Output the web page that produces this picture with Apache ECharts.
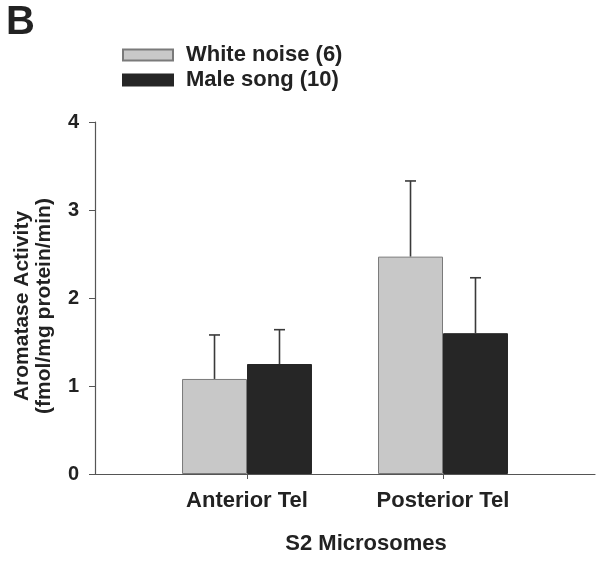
<!DOCTYPE html>
<html>
<head>
<meta charset="utf-8">
<script src="https://cdn.jsdelivr.net/npm/echarts@6/dist/echarts.min.js"></script>
<style>
html,body{margin:0;padding:0;background:#fff;}
#chart{width:601px;height:561px;}
</style>
</head>
<body>
<div id="chart"></div>
<script>
const categories = ['Anterior Tel', 'Posterior Tel'];
const seriesNames = ['White noise (6)', 'Male song (10)'];
const whiteNoise = [1.08, 2.47];
const whiteNoiseErr = [0.50, 0.86];
const maleSong = [1.25, 1.60];
const maleSongErr = [0.39, 0.63];
const yTicks = [0, 1, 2, 3, 4];

const FONT = '"Liberation Sans", Arial, sans-serif';
const AXIS_COLOR = '#555555';
const TEXT_COLOR = '#222222';
const BAR_CATEGORY_GAP = 0.337;

const chart = echarts.init(document.getElementById('chart'), null, {renderer: 'canvas'});

function errRender(offsetSign, means, errs) {
  return function (params, api) {
    const i = api.value(0);
    const band = api.size([1, 0])[0];
    const barW = band * (1 - BAR_CATEGORY_GAP) / 2;
    const base = api.coord([i, means[i]]);
    const top = api.coord([i, means[i] + errs[i]]);
    const x = base[0] + offsetSign * barW / 2;
    const cap = 5.5;
    const style = {stroke: '#3a3a3a', lineWidth: 1.6};
    return {
      type: 'group',
      children: [
        {type: 'line', shape: {x1: x, y1: base[1], x2: x, y2: top[1]}, style: style},
        {type: 'line', shape: {x1: x - cap, y1: top[1], x2: x + cap, y2: top[1]}, style: style}
      ]
    };
  };
}

const option = {
  animation: false,
  backgroundColor: '#ffffff',
  textStyle: {fontFamily: FONT},
  title: {
    text: 'B', left: 6, top: 3, padding: 0,
    textStyle: {fontFamily: FONT, fontWeight: 'bold', fontSize: 40, color: TEXT_COLOR}
  },
  legend: {
    orient: 'vertical', left: 122, top: 44, padding: 0,
    itemWidth: 50, itemHeight: 11, itemGap: 3,
    icon: 'rect',
    data: seriesNames,
    textStyle: {fontFamily: FONT, fontWeight: 'bold', fontSize: 22, color: TEXT_COLOR, padding: [0, 0, 0, 8]}
  },
  grid: [
    {left: 95, right: 6, top: 122, bottom: 87},
    {left: 149, width: 392, top: 122, bottom: 87}
  ],
  xAxis: [
    {
      gridIndex: 0, type: 'value', min: 0, max: 1,
      axisLine: {show: true, lineStyle: {color: AXIS_COLOR, width: 1.2}},
      axisTick: {show: false}, axisLabel: {show: false}, splitLine: {show: false}
    },
    {
      gridIndex: 1, type: 'category', data: categories,
      axisLine: {show: false},
      axisTick: {show: true, alignWithLabel: true, length: 5, lineStyle: {color: AXIS_COLOR}},
      axisLabel: {margin: 16, fontFamily: FONT, fontWeight: 'bold', fontSize: 22, color: TEXT_COLOR},
      name: 'S2 Microsomes', nameLocation: 'middle', nameGap: 59,
      nameTextStyle: {fontFamily: FONT, fontWeight: 'bold', fontSize: 22, color: TEXT_COLOR, padding: [0, 0, 0, 42]}
    }
  ],
  yAxis: [
    {
      gridIndex: 0, type: 'value', min: 0, max: 4, interval: 1,
      axisLine: {show: true, lineStyle: {color: AXIS_COLOR, width: 1.2}},
      axisTick: {show: true, inside: false, length: 6, lineStyle: {color: AXIS_COLOR}},
      axisLabel: {margin: 16, fontFamily: FONT, fontWeight: 'bold', fontSize: 20, color: TEXT_COLOR,
        formatter: function (v) { return yTicks.indexOf(v) >= 0 ? String(v) : ''; }},
      splitLine: {show: false},
      name: 'Aromatase Activity\n(fmol/mg protein/min)',
      nameLocation: 'middle', nameGap: 40, nameRotate: 90,
      nameTextStyle: {fontFamily: FONT, fontWeight: 'bold', fontSize: 21, lineHeight: 22, color: TEXT_COLOR, padding: [0, 16, 0, 0]}
    },
    {
      gridIndex: 1, type: 'value', min: 0, max: 4, interval: 1, show: false
    }
  ],
  series: [
    {
      name: seriesNames[0], type: 'bar', xAxisIndex: 1, yAxisIndex: 1,
      data: whiteNoise, barGap: '0%', barCategoryGap: (BAR_CATEGORY_GAP * 100) + '%',
      itemStyle: {color: '#c8c8c8', borderColor: '#7a7a7a', borderWidth: 1}
    },
    {
      name: seriesNames[1], type: 'bar', xAxisIndex: 1, yAxisIndex: 1,
      data: maleSong, barGap: '0%', barCategoryGap: (BAR_CATEGORY_GAP * 100) + '%',
      itemStyle: {color: '#262626', borderColor: '#262626', borderWidth: 1}
    },
    {
      type: 'custom', xAxisIndex: 1, yAxisIndex: 1, z: 1,
      renderItem: errRender(-1, whiteNoise, whiteNoiseErr),
      data: categories.map(function (c, i) { return [i]; }),
      silent: true
    },
    {
      type: 'custom', xAxisIndex: 1, yAxisIndex: 1, z: 1,
      renderItem: errRender(1, maleSong, maleSongErr),
      data: categories.map(function (c, i) { return [i]; }),
      silent: true
    }
  ]
};
chart.setOption(option);
</script>
</body>
</html>
